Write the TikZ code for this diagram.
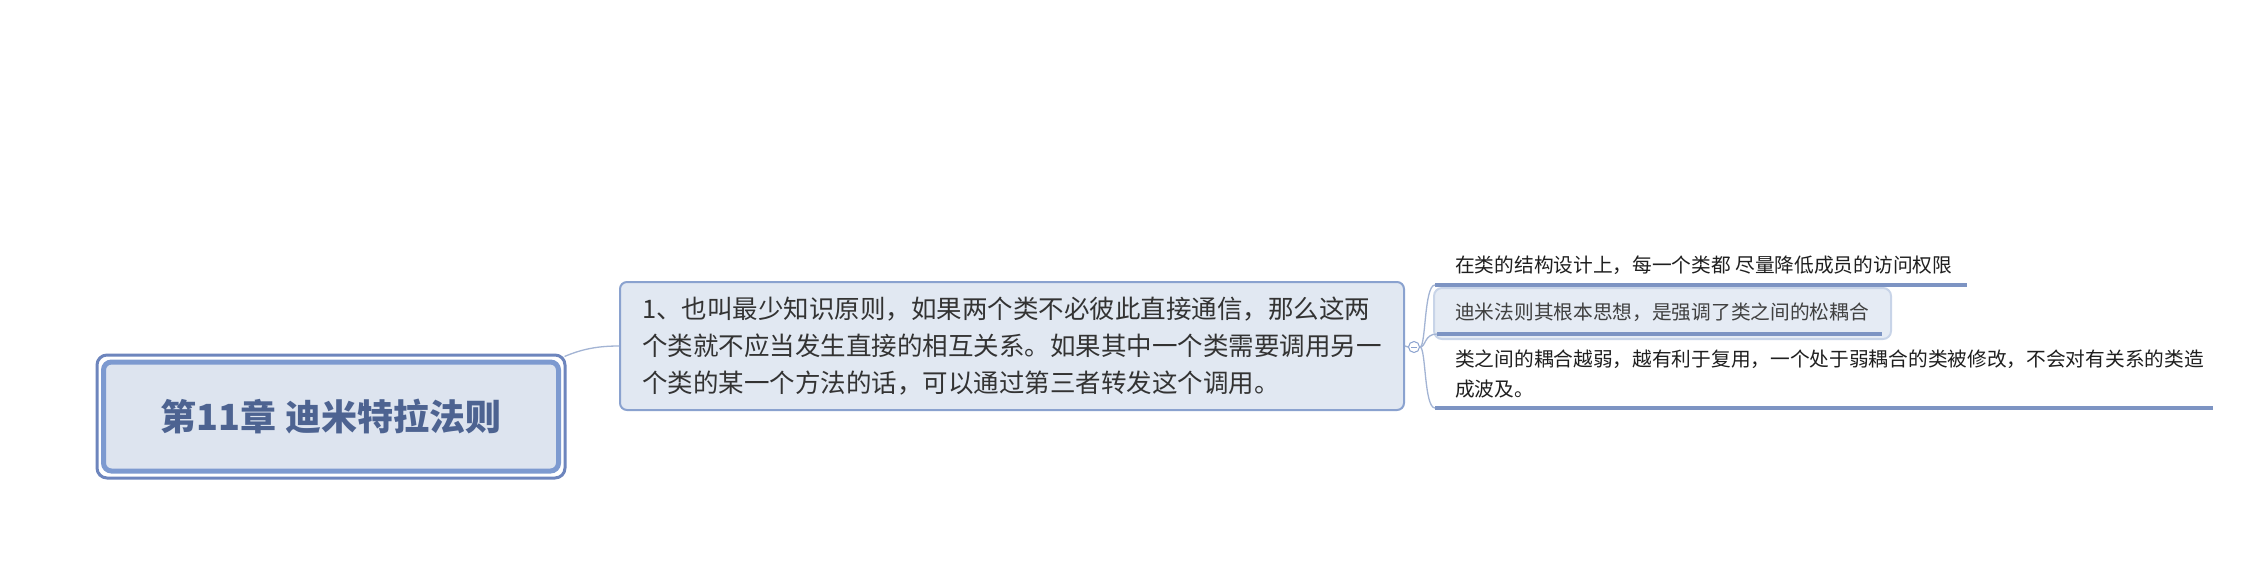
\documentclass[tikz,border=0pt]{standalone}
\usepackage{fontspec}
\newfontfamily\cjk{Noto Sans CJK SC}
\usetikzlibrary{calc}
\definecolor{rootfill}{HTML}{DDE4EF}
\definecolor{rootouter}{HTML}{6D85BD}
\definecolor{rootinner}{HTML}{7D9AD0}
\definecolor{roottext}{HTML}{4D6391}
\definecolor{midfill}{HTML}{E1E8F2}
\definecolor{midline}{HTML}{8AA2CF}
\definecolor{conncol}{HTML}{A3B4D4}
\definecolor{ulcol}{HTML}{7D94C3}
\definecolor{selfill}{HTML}{E5EBF4}
\definecolor{selline}{HTML}{C8D4E8}
\definecolor{bodytext}{HTML}{333333}
\begin{document}
\begin{tikzpicture}[x=1pt,y=-1pt,
  rootouterbox/.style={draw=rootouter, line width=3pt, rounded corners=10pt, minimum width=468pt, minimum height=123pt, inner sep=0pt},
  rootinnerbox/.style={draw=rootinner, fill=rootfill, line width=5pt, rounded corners=8pt, minimum width=455pt, minimum height=109pt, inner sep=0pt, text=roottext, font={\cjk\bfseries\fontsize{36}{40}\selectfont}},
  midbox/.style={draw=midline, fill=midfill, line width=2pt, rounded corners=7pt, minimum width=784pt, minimum height=128pt, inner sep=0pt, align=left, text=bodytext, font={\cjk\fontsize{25.5}{37}\selectfont}},
  btext/.style={inner sep=0pt, align=left, text=black!88, font={\cjk\fontsize{19.7}{30}\selectfont}},
  selbox/.style={draw=selline, fill=selfill, line width=2pt, rounded corners=8pt, inner sep=0pt},
  conn/.style={draw=conncol, line width=1.3pt},
  uline/.style={draw=ulcol, line width=4pt},
  collapse/.style={circle, draw=midline, fill=white, line width=1pt, minimum size=11pt, inner sep=0pt}
]
\useasboundingbox[fill=white] (0,0) rectangle (2264,562);

% root
\node[rootouterbox] (root) at (331,416.5) {};
\node[rootinnerbox] (roottitle) at (331,416.5) {第11章 迪米特拉法则};

% main topic
\node[midbox] (mid) at (1012,346) {1、也叫最少知识原则，如果两个类不必彼此直接通信，那么这两\\个类就不应当发生直接的相互关系。如果其中一个类需要调用另一\\个类的某一个方法的话，可以通过第三者转发这个调用。};

\coordinate (rootout) at ($(root.north east)+(-2,3)$);
\draw[conn] (rootout) .. controls (582,349) and (598,346) .. (mid.west);

% collapse marker
\node[collapse] (col) at (1414,347) {};
\draw[conn] (mid.east) -- (col.west);
\draw[midline, line width=1pt] ($(col.center)+(-3,0)$) -- ($(col.center)+(3,0)$);

% branch 2 selection box
\node[selbox, anchor=north west, minimum width=457pt, minimum height=51pt] (b2box) at (1433,287) {};

% branch texts
\node[btext, anchor=west] (b1) at (1455,265) {在类的结构设计上，每一个类都 尽量降低成员的访问权限};
\node[btext, anchor=west, text=black!75] (b2) at (1455,312) {迪米法则其根本思想，是强调了类之间的松耦合};
\node[btext, anchor=west] (b3) at (1455,374) {类之间的耦合越弱，越有利于复用，一个处于弱耦合的类被修改，不会对有关系的类造\\成波及。};

% underlines
\coordinate (u1s) at (1435,285); \coordinate (u1e) at (1967,285);
\coordinate (u2s) at (1437,334); \coordinate (u2e) at (1882,334);
\coordinate (u3s) at (1435,408); \coordinate (u3e) at (2213,408);
\draw[uline] (u1s) -- (u1e);
\draw[uline] (u2s) -- (u2e);
\draw[uline] (u3s) -- (u3e);

% branch connectors
\draw[conn] (col.east) .. controls (1426,347) and (1424,285) .. (u1s);
\draw[conn] (col.east) .. controls (1426,347) and (1424,334) .. (u2s);
\draw[conn] (col.east) .. controls (1426,347) and (1424,408) .. (u3s);
\end{tikzpicture}
\end{document}
